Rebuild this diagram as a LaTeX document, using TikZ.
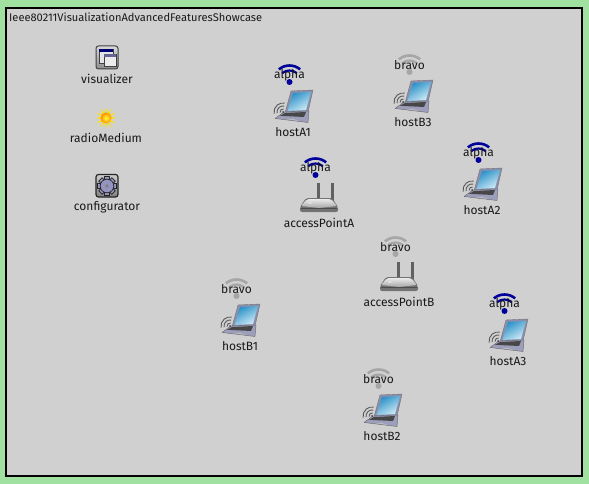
\documentclass[tikz,border=0pt]{standalone}
\usepackage{fontspec}
\setmainfont{Fira Sans}
\definecolor{pagegreen}{HTML}{A0E0A0}
\definecolor{modgray}{HTML}{D0D0D0}
\definecolor{alphablue}{HTML}{00009A}
\definecolor{bravogray}{HTML}{A6A6A6}
\definecolor{lidgray}{HTML}{8A8FAE}
\definecolor{basegray}{HTML}{9C9EBC}
\definecolor{skyA}{HTML}{2A90C8}
\definecolor{skyB}{HTML}{D0ECF6}
\tikzset{
  lbl/.style={font=\fontsize{12}{14}\selectfont,inner sep=0pt,text=black!90},
  titlelbl/.style={font=\fontsize{11.1}{13}\selectfont,inner sep=0pt,text=black!90},
  pics/wifi/.style={code={
    \fill[#1] (0,0) circle (3);
    \draw[#1,line width=2.2pt] (-130:11.5) arc[start angle=-130,end angle=-50,radius=11.5];
    \draw[#1,line width=2.6pt] (-130:16.5) arc[start angle=-130,end angle=-50,radius=16.5];
  }},
  pics/laptop/.style={code={
    \fill[lidgray,draw=black!55,line width=.4pt,line join=round] (-2,-16) -- (20,-17) -- (15,5) -- (-8,6) -- cycle;
    \shade[left color=skyA,right color=skyB,shading angle=30] (0,-14) -- (18,-15) -- (13,3) -- (-5.5,4) -- cycle;
    \fill[basegray,draw=black!60,line width=.4pt,line join=round] (-9,5) -- (16,4) -- (15,15.5) -- (-18,11.5) -- cycle;
    \fill[black!72] (-8,6) -- (13,5) -- (11,10) -- (-13,8.8) -- cycle;
    \fill[black!25] (-7,12) -- (6,14) -- (0,12) -- cycle;
    \foreach \r in {3,6,9}
      \draw[black!65,line width=.9pt] (-10,5) ++(-190:\r) arc[start angle=-190,end angle=-80,radius=\r];
    \fill[black!75] (-10,5) circle (1);
  }},
  pics/router/.style={code={
    \fill[black!62] (-2.5,-15) rectangle (1,3);
    \fill[black!62] (11.5,-15) rectangle (15,3);
    \fill[black!55,rounded corners=2pt] (-19,9) -- (-13,0) -- (13,0) -- (19,9) -- (19,14) -- (-19,14) -- cycle;
    \shade[top color=black!8,bottom color=black!35,rounded corners=2pt] (-18,8) -- (-12,1) -- (12,1) -- (18,8) -- (0,10) -- cycle;
    \fill[black!70] (-18,10) rectangle (18,11);
    \fill[white!90!black] (-9,5) ellipse (2 and .8);
  }},
  pics/vizicon/.style={code={
    \shade[top color=black!15,bottom color=black!45,draw=black!75,line width=1pt,rounded corners=2.5pt] (-11,-12) rectangle (11,11);
    \fill[white!90!black,draw=black!75,line width=.5pt] (-8,-9) rectangle (6,5);
    \fill[blue!45!black] (-8,-9) rectangle (6,-6);
    \fill[white!92!black,draw=black!75,line width=.5pt] (-3,-4) rectangle (9,8);
    \fill[blue!30!black!60] (-3,-4) rectangle (9,-1);
  }},
  pics/sunicon/.style={code={
    \foreach \a in {0,30,...,330}
      \fill[yellow!85!orange] (\a+10:5.5) -- (\a:11) -- (\a-10:5.5) -- cycle;
    \shade[inner color=yellow!80,outer color=orange!90!yellow] (0,0) circle (5.5);
  }},
  pics/gearicon/.style={code={
    \shade[top color=black!20,bottom color=black!50,draw=black!85,line width=1.2pt,rounded corners=2.5pt] (-11,-11.5) rectangle (11,11);
    \foreach \a in {0,45,...,315}
      \fill[black!85,rotate=\a] (-2.7,-9.7) rectangle (2.7,-5);
    \foreach \a in {0,45,...,315}
      \fill[blue!40!black!42,rotate=\a] (-1.8,-8.8) rectangle (1.8,-5);
    \fill[blue!40!black!42,draw=black!85,line width=.7pt] (0,0) circle (6.8);
    \fill[black!50] (0,0) circle (1.8);
  }},
}
\begin{document}
\begin{tikzpicture}[x=1pt,y=-1pt]
\useasboundingbox (0,0) rectangle (589,484);
\fill[pagegreen] (0,0) rectangle (589,484);
\draw[black,line width=2pt,fill=modgray] (6,8) rectangle (582,476);
\node[titlelbl,anchor=west] (title) at (9,17) {Ieee80211VisualizationAdvancedFeaturesShowcase};

\pic at (107,58) {vizicon};
\node[lbl] (visualizer) at (107,78.5) {visualizer};
\pic at (106,118) {sunicon};
\node[lbl] (radioMedium) at (106,138) {radioMedium};
\pic at (107,186) {gearicon};
\node[lbl] (configurator) at (107,207) {configurator};

\foreach \nm/\lx/\ly/\wc/\wt in {
  hostA1/293/107/alphablue/alpha,
  hostB3/413/97/bravogray/bravo,
  hostA2/482/185/alphablue/alpha,
  hostA3/508/336/alphablue/alpha,
  hostB1/240/321/bravogray/bravo,
  hostB2/382/411/bravogray/bravo}{
  \pic at (\lx,\ly) {laptop};
  \pic at (\lx-3.5,\ly-25) {wifi=\wc};
  \node[lbl] (\nm-radio) at (\lx-3.5,\ly-31.5) {\wt};
  \node[lbl] (\nm) at (\lx,\ly+25.5) {\nm};
}
\foreach \nm/\lx/\ly/\wc/\wt in {
  accessPointA/319/198/alphablue/alpha,
  accessPointB/399/277/bravogray/bravo}{
  \pic at (\lx,\ly) {router};
  \pic at (\lx-3.5,\ly-23) {wifi=\wc};
  \node[lbl] (\nm-radio) at (\lx-3.5,\ly-30) {\wt};
  \node[lbl] (\nm) at (\lx,\ly+24.5) {\nm};
}
\end{tikzpicture}
\end{document}
